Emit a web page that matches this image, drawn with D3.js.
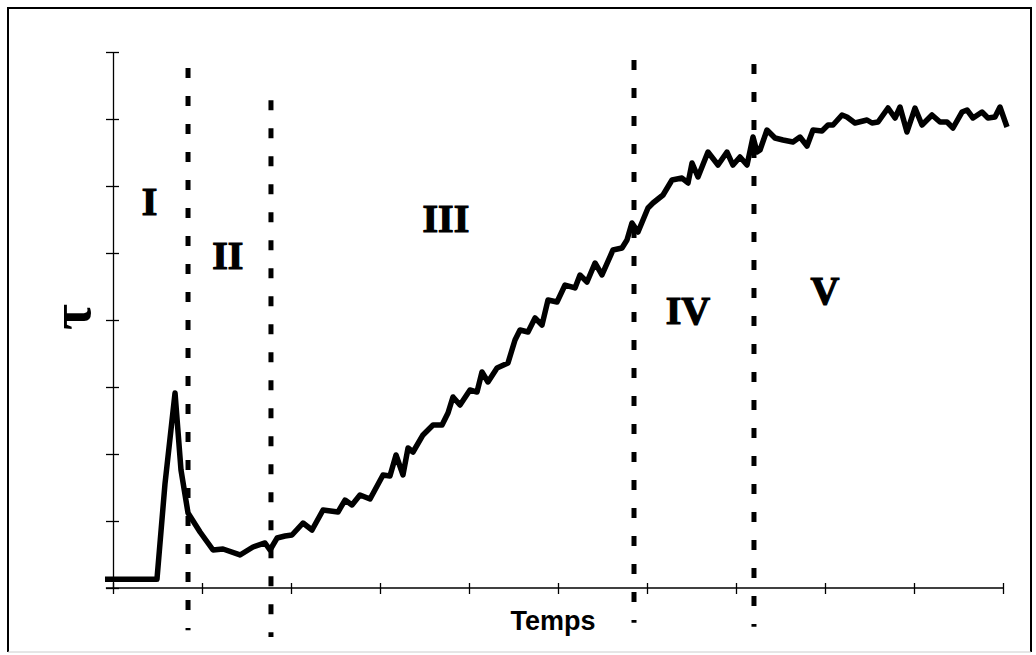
<!DOCTYPE html>
<html>
<head>
<meta charset="utf-8">
<script src="https://cdn.jsdelivr.net/npm/d3@7"></script>
<style>
  html, body { margin: 0; padding: 0; background: #fff; }
  svg { display: block; }
</style>
</head>
<body>
<svg id="chart" width="1036" height="655"></svg>
<script>
// ---- Data (time in axis units, tau in axis units) ----
const timeValues = [
  -0.09, 0.494, 0.584, 0.697, 0.764, 0.843, 0.978, 1.124, 1.236, 1.427,
  1.573, 1.708, 1.764, 1.843, 1.933, 2.011, 2.135, 2.236, 2.360, 2.528,
  2.607, 2.685, 2.775, 2.888, 3.034, 3.112, 3.180, 3.258, 3.315, 3.371,
  3.483, 3.596, 3.697, 3.764, 3.820, 3.899, 4.011, 4.090, 4.146, 4.213,
  4.315, 4.438, 4.517, 4.573, 4.663, 4.742, 4.820, 4.888, 4.989, 5.079,
  5.191, 5.247, 5.326, 5.416, 5.494, 5.618, 5.719, 5.775, 5.831, 5.899,
  6.011, 6.067, 6.180, 6.281, 6.393, 6.461, 6.506, 6.573, 6.685, 6.798,
  6.899, 6.966, 7.045, 7.124, 7.191, 7.236, 7.270, 7.348, 7.438, 7.528,
  7.640, 7.719, 7.798, 7.865, 7.966, 8.034, 8.090, 8.191, 8.247, 8.337,
  8.472, 8.528, 8.596, 8.708, 8.787, 8.843, 8.921, 9.011, 9.090, 9.202,
  9.292, 9.371, 9.438, 9.539, 9.596, 9.663, 9.764, 9.831, 9.910, 9.966,
  10.045
];
const tauValues = [
  0.13, 0.13, 1.552, 2.910, 1.761, 1.119, 0.836, 0.567, 0.582, 0.493,
  0.612, 0.672, 0.567, 0.746, 0.776, 0.791, 0.970, 0.866, 1.164, 1.134,
  1.313, 1.239, 1.388, 1.328, 1.687, 1.672, 1.985, 1.687, 2.090, 2.030,
  2.284, 2.433, 2.433, 2.612, 2.851, 2.731, 2.955, 2.925, 3.224, 3.075,
  3.284, 3.358, 3.701, 3.851, 3.821, 4.030, 3.925, 4.299, 4.269, 4.522,
  4.478, 4.672, 4.567, 4.851, 4.672, 5.045, 5.075, 5.194, 5.448, 5.313,
  5.672, 5.746, 5.866, 6.090, 6.119, 6.045, 6.343, 6.134, 6.507, 6.313,
  6.507, 6.313, 6.433, 6.313, 6.731, 6.507, 6.537, 6.836, 6.716, 6.687,
  6.657, 6.731, 6.597, 6.836, 6.821, 6.910, 6.910, 7.060, 7.030, 6.940,
  6.985, 6.940, 6.955, 7.164, 7.015, 7.179, 6.806, 7.164, 6.910, 7.060,
  6.955, 6.955, 6.866, 7.104, 7.134, 7.015, 7.104, 7.015, 7.030, 7.179,
  6.881
];
const xTickValues = [0, 1, 2, 3, 4, 5, 6, 7, 8, 9, 10];
const yTickValues = [0, 1, 2, 3, 4, 5, 6, 7, 8];
const phaseBoundaries = [0.843, 1.775, 5.854, 7.202];
const phaseNames = ["I", "II", "III", "IV", "V"];
const xTitle = "Temps";
const yTitle = "τ";

// ---- Layout ----
const svg = d3.select("#chart");
const x = d3.scaleLinear().domain([0, 10]).range([113, 1003]);
const y = d3.scaleLinear().domain([0, 8]).range([588, 52]);

// frame
svg.append("line").attr("x1", 8).attr("y1", 8).attr("x2", 1031).attr("y2", 8)
  .attr("stroke", "#000").attr("stroke-width", 2);
svg.append("line").attr("x1", 8).attr("y1", 7).attr("x2", 8).attr("y2", 652)
  .attr("stroke", "#000").attr("stroke-width", 2);
svg.append("line").attr("x1", 1031).attr("y1", 7).attr("x2", 1031).attr("y2", 652)
  .attr("stroke", "#000").attr("stroke-width", 2);
svg.append("line").attr("x1", 8).attr("y1", 652).attr("x2", 1031).attr("y2", 652)
  .attr("stroke", "#ccc").attr("stroke-width", 1);

// axes: lines with crossing ticks
const yAxis = d3.axisLeft(y).tickValues(yTickValues).tickFormat("").tickSizeInner(7).tickSizeOuter(0);
const gy = svg.append("g").attr("transform", `translate(${x(0)},0)`).call(yAxis);
gy.selectAll(".tick line").attr("x2", -7).attr("x1", 6).attr("stroke-width", 1.3);
gy.select(".domain").attr("stroke-width", 1.3);

const xAxis = d3.axisBottom(x).tickValues(xTickValues).tickFormat("").tickSizeInner(6).tickSizeOuter(0);
const gx = svg.append("g").attr("transform", `translate(0,${y(0)})`).call(xAxis);
gx.selectAll(".tick line").attr("y1", -5).attr("y2", 6).attr("stroke-width", 1.3);
gx.select(".domain").attr("d", `M${x(-0.08)},0H${x(10)}`).attr("stroke-width", 1.6);

// phase boundaries (dashed)
const boundaryExtent = [[7.76, -0.63], [7.28, -0.73], [7.88, -0.52], [7.82, -0.58]];
svg.append("g").selectAll("line").data(phaseBoundaries).join("line")
  .attr("x1", d => x(d)).attr("x2", d => x(d))
  .attr("y1", (d, i) => y(boundaryExtent[i][0]))
  .attr("y2", (d, i) => y(boundaryExtent[i][1]))
  .attr("stroke", "#000").attr("stroke-width", 5)
  .attr("stroke-dasharray", "10,18");

// curve
const pts = timeValues.map((t, i) => [t, tauValues[i]]);
const line = d3.line().x(d => x(d[0])).y(d => y(d[1]));
svg.append("path").datum(pts).attr("d", line)
  .attr("fill", "none").attr("stroke", "#000").attr("stroke-width", 5.5)
  .attr("stroke-linejoin", "round").attr("stroke-linecap", "butt");

// phase labels
const labelPos = [[0.41, 5.57], [1.29, 4.76], [3.74, 5.31], [6.46, 3.94], [8.0, 4.24]];
svg.append("g").selectAll("text").data(phaseNames).join("text")
  .attr("x", (d, i) => x(labelPos[i][0]))
  .attr("y", (d, i) => y(labelPos[i][1]))
  .attr("text-anchor", "middle")
  .attr("font-family", "'Liberation Serif', 'Times New Roman', serif")
  .attr("font-weight", "bold").attr("font-size", 40)
  .attr("fill", "#000").attr("stroke", "#000").attr("stroke-width", 1.2)
  .text(d => d);

// axis titles
svg.append("text").attr("x", 553).attr("y", 630)
  .attr("text-anchor", "middle")
  .attr("font-family", "'Liberation Sans', Arial, sans-serif")
  .attr("font-weight", "bold").attr("font-size", 27)
  .text(xTitle);

svg.append("text")
  .attr("transform", "translate(71,317) rotate(-90)")
  .attr("text-anchor", "middle").attr("dominant-baseline", "central")
  .attr("font-family", "'Liberation Serif', 'DejaVu Serif', serif")
  .attr("font-weight", "bold").attr("font-size", 56)
  .text(yTitle);
</script>
</body>
</html>
